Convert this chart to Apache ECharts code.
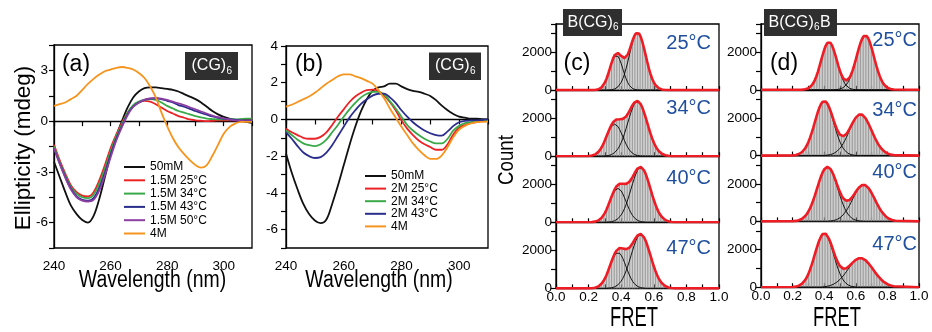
<!DOCTYPE html>
<html><head><meta charset="utf-8">
<script src="https://cdn.jsdelivr.net/npm/echarts@6/dist/echarts.min.js"></script>
<style>html,body{margin:0;padding:0;background:#fff}#c{width:932px;height:332px}</style>
</head><body><div id="c"></div>
<script>
const FONT = '"Liberation Sans", Arial, Helvetica, sans-serif';

// ---------- CD spectra (panels a, b) ----------
const WL = [240,242,244,246,248,250,252,254,256,258,260,262,264,266,268,270,272,274,276,278,280,282,284,286,288,290,292,294,296,298,300,302,304,306,308,310];
const A_50MM   = [-2.4,-3.3,-4.2,-5.0,-5.5,-5.85,-6.0,-5.6,-4.6,-3.3,-2.0,-0.9,0.0,0.8,1.4,1.75,1.95,2.0,2.0,1.95,1.9,1.85,1.75,1.6,1.45,1.3,1.1,0.85,0.6,0.4,0.25,0.15,0.08,0.05,-0.05,-0.1];
const A_15M_25 = [-1.4,-2.3,-3.1,-3.8,-4.2,-4.4,-4.45,-4.2,-3.5,-2.6,-1.6,-0.8,-0.1,0.5,0.9,1.1,1.2,1.15,1.0,0.8,0.6,0.45,0.3,0.2,0.1,0.05,0.02,0.0,0.02,0.05,0.05,0.05,0.05,0.08,0.1,0.1];
const A_15M_34 = [-1.5,-2.4,-3.2,-3.9,-4.3,-4.5,-4.55,-4.35,-3.7,-2.8,-1.8,-0.9,-0.2,0.5,0.95,1.15,1.25,1.3,1.25,1.1,0.9,0.75,0.6,0.5,0.4,0.3,0.22,0.15,0.12,0.1,0.1,0.1,0.1,0.12,0.15,0.15];
const A_15M_43 = [-1.6,-2.5,-3.3,-4.0,-4.45,-4.65,-4.7,-4.55,-3.95,-3.05,-2.0,-1.05,-0.3,0.4,0.85,1.1,1.25,1.33,1.35,1.3,1.2,1.1,0.95,0.85,0.72,0.6,0.48,0.38,0.28,0.2,0.15,0.1,0.08,0.05,0.05,0.05];
const A_15M_50 = [-1.6,-2.5,-3.35,-4.05,-4.5,-4.7,-4.75,-4.65,-4.1,-3.2,-2.15,-1.15,-0.35,0.35,0.85,1.1,1.27,1.35,1.37,1.33,1.25,1.15,1.05,0.95,0.82,0.7,0.57,0.45,0.33,0.23,0.16,0.1,0.05,0.03,0.0,0.0];
const A_4M     = [0.9,1.0,1.1,1.3,1.5,1.85,2.2,2.5,2.75,2.95,3.05,3.15,3.2,3.15,3.05,2.85,2.55,2.05,1.4,0.5,-0.3,-1.0,-1.55,-1.95,-2.3,-2.6,-2.75,-2.6,-2.05,-1.4,-0.75,-0.35,-0.15,-0.05,-0.05,-0.05];

const B_50MM  = [-1.85,-2.9,-3.8,-4.6,-5.15,-5.5,-5.65,-5.45,-4.6,-3.6,-2.5,-1.4,-0.4,0.45,1.1,1.55,1.75,1.8,1.95,1.95,1.8,1.65,1.55,1.5,1.4,1.28,1.05,0.75,0.5,0.3,0.15,0.1,0.05,0.05,0.02,0.0];
const B_2M_25 = [-0.5,-0.7,-0.85,-1.0,-1.05,-1.05,-0.95,-0.7,-0.3,0.15,0.55,0.95,1.25,1.45,1.6,1.62,1.55,1.3,0.95,0.5,-0.05,-0.5,-0.85,-1.15,-1.35,-1.5,-1.65,-1.65,-1.35,-0.8,-0.45,-0.3,-0.2,-0.15,-0.08,-0.05];
const B_2M_34 = [-0.6,-0.85,-1.1,-1.3,-1.4,-1.45,-1.35,-1.1,-0.7,-0.3,0.15,0.55,0.9,1.2,1.4,1.5,1.5,1.35,1.0,0.6,0.15,-0.3,-0.6,-0.85,-1.05,-1.2,-1.3,-1.3,-1.05,-0.6,-0.35,-0.2,-0.15,-0.1,-0.05,-0.05];
const B_2M_43 = [-0.7,-1.05,-1.45,-1.8,-2.0,-2.1,-2.05,-1.8,-1.4,-0.9,-0.4,0.1,0.5,0.85,1.1,1.3,1.4,1.4,1.2,0.9,0.5,0.15,-0.15,-0.4,-0.6,-0.75,-0.85,-0.88,-0.65,-0.35,-0.15,-0.08,-0.05,-0.05,-0.03,0.0];
const B_4M    = [0.7,0.8,0.95,1.1,1.25,1.45,1.7,1.95,2.15,2.35,2.45,2.45,2.35,2.25,2.1,1.95,1.6,1.15,0.6,0.1,-0.4,-0.85,-1.3,-1.65,-1.95,-2.15,-2.15,-1.95,-1.5,-0.95,-0.55,-0.35,-0.22,-0.15,-0.13,-0.12];

const A_NAMES = ['50mM','1.5M 25°C','1.5M 34°C','1.5M 43°C','1.5M 50°C','4M'];
const B_NAMES = ['50mM','2M 25°C','2M 34°C','2M 43°C','4M'];
const A_TICKS_Y = [-6,-3,0,3];
const B_TICKS_Y = [-6,-4,-2,0,2,4];
const WL_TICKS = [240,260,280,300];

// ---------- smFRET histograms (panels c, d) ----------
const FRET_BINS = [0.20,0.21,0.22,0.23,0.24,0.25,0.26,0.27,0.28,0.29,0.30,0.31,0.32,0.33,0.34,0.35,0.36,0.37,0.38,0.39,0.40,0.41,0.42,0.43,0.44,0.45,0.46,0.47,0.48,0.49,0.50,0.51,0.52,0.53,0.54,0.55,0.56,0.57,0.58,0.59,0.60,0.61,0.62,0.63,0.64,0.65,0.66,0.67,0.68,0.69,0.70,0.71,0.72,0.73,0.74,0.75,0.76,0.77,0.78,0.79,0.80,0.81,0.82,0.83,0.84,0.85];
// Gaussian components (counts per bin); missing tail entries are 0
const C25_LOW  = [0,0,0,4,9,20,43,81,148,250,400,601,847,1123,1397,1632,1793,1850,1793,1632,1397,1123,847,601,400,250,148,81,43,20,9,4];
const C25_HIGH = [0,0,0,0,0,0,0,0,0,0,0,0,4,9,18,34,61,104,171,271,412,604,848,1144,1485,1851,2214,2547,2815,2989,3050,2989,2815,2547,2214,1851,1485,1144,848,604,412,271,171,104,61,34,18,9,4];
const C34_LOW  = [10,19,34,58,95,151,230,337,473,638,828,1032,1234,1420,1569,1666,1700,1666,1569,1420,1234,1032,828,638,473,337,230,151,95,58,34,19,10,5];
const C34_HIGH = [0,0,0,0,0,0,0,0,0,0,12,20,32,52,84,128,191,278,392,539,722,943,1192,1467,1760,2050,2323,2558,2743,2859,2900,2859,2743,2558,2323,2050,1760,1467,1192,943,722,539,392,278,191,128,84,52,32,20,12];
const C40_LOW  = [0,5,11,20,36,61,101,160,243,356,500,675,877,1093,1307,1503,1661,1764,1800,1764,1661,1503,1307,1093,877,675,500,356,243,160,101,61,36,20,11,5];
const C40_HIGH = [0,0,0,0,0,0,0,0,0,0,0,0,12,20,32,52,84,128,191,278,392,539,722,943,1192,1467,1760,2050,2323,2558,2743,2859,2900,2859,2743,2558,2323,2050,1760,1467,1192,943,722,539,392,278,191,128,84,52,32,20,12];
const C47_LOW  = [0,6,11,21,38,65,106,169,257,376,528,713,925,1153,1379,1587,1754,1862,1900,1862,1754,1587,1379,1153,925,713,528,376,257,169,106,65,38,21,11,6];
const C47_HIGH = [0,0,0,0,0,0,0,0,0,0,0,0,11,20,31,51,83,125,188,274,385,530,710,926,1171,1442,1730,2015,2283,2514,2696,2810,2850,2810,2696,2514,2283,2015,1730,1442,1171,926,710,530,385,274,188,125,83,51,31,20,11];

const D25_LOW  = [0,0,0,0,0,0,8,15,28,51,87,143,227,344,505,709,956,1242,1548,1851,2129,2354,2499,2550,2499,2354,2129,1851,1548,1242,956,709,505,344,227,143,87,51,28,15,8];
const D25_HIGH = [0,0,0,0,0,0,0,0,0,0,0,0,0,0,0,0,0,0,0,0,0,0,0,0,0,0,0,9,15,23,44,70,113,177,270,392,554,760,1006,1291,1598,1920,2227,2500,2714,2854,2900,2854,2714,2500,2227,1920,1598,1291,1006,760,554,392,270,177,113,70,44,23,15,9];
const D34_LOW  = [12,20,32,52,84,128,191,278,392,539,722,943,1192,1467,1760,2050,2323,2558,2743,2859,2900,2859,2743,2558,2323,2050,1760,1467,1192,943,722,539,392,278,191,128,84,52,32,20,12];
const D34_HIGH = [0,0,0,0,0,0,0,0,0,0,0,0,0,0,0,0,0,0,0,0,0,15,24,37,55,81,114,161,222,297,392,506,640,792,961,1144,1335,1525,1705,1868,2006,2112,2178,2200,2178,2112,2006,1868,1705,1525,1335,1144,961,792,640,506,392,297,222,161,114,81,55,37,24,15];
const D40_LOW  = [9,15,26,41,64,96,139,203,284,392,528,693,887,1111,1360,1624,1894,2158,2401,2607,2767,2865,2900,2865,2767,2607,2401,2158,1894,1624,1360,1111,887,693,528,392,284,203,139,96,64,41,26,15,9];
const D40_HIGH = [0,0,0,0,0,0,0,0,0,0,0,0,0,0,0,0,0,0,0,0,0,0,0,14,21,33,49,72,101,142,197,263,347,449,567,702,852,1014,1184,1351,1511,1656,1778,1872,1931,1950,1931,1872,1778,1656,1511,1351,1184,1014,852,702,567,449,347,263,197,142,101,72,49,33];
const D47_LOW  = [11,20,31,51,83,125,188,274,385,530,710,926,1171,1442,1730,2015,2283,2514,2696,2810,2850,2810,2696,2514,2283,2015,1730,1442,1171,926,710,530,385,274,188,125,83,51,31,20,11];
const D47_HIGH = [0,0,0,0,0,0,0,0,0,0,0,0,0,0,0,0,0,0,0,17,25,36,50,68,93,124,163,209,267,335,414,504,603,710,823,941,1057,1170,1276,1367,1445,1502,1538,1550,1538,1502,1445,1367,1276,1170,1057,941,823,710,603,504,414,335,267,209,163,124,93,68,50,36];

const TEMPS = ['25°C','34°C','40°C','47°C'];
const COUNT_TICKS = [0,2000];

// ---------- build ----------
const COL = {black:'#111111', red:'#ec2226', green:'#3aa948', blue:'#2b2d8c', purple:'#8b3fa2', orange:'#f7941d'};
const chart = echarts.init(document.getElementById('c'), null, {renderer:'canvas'});

function grid(l,t,w,h){return {left:l,top:t,width:w,height:h,show:true,borderColor:'#000',borderWidth:1.3,backgroundColor:'rgba(0,0,0,0)',containLabel:false,outerBoundsMode:'none'};}
const grids = [grid(54,45,198,203), grid(286,46,202,202)];
const CH = 66.1, DH = 65.8;
for (let i=0;i<4;i++) grids.push(grid(556, 24+i*CH, 163, CH));
for (let i=0;i<4;i++) grids.push(grid(761, 24+i*DH, 158, DH));

const axLine = {show:true, lineStyle:{color:'#000', width:1.3}};
const lblStyle = {color:'#000', fontSize:13.5, fontFamily:FONT};
const xAxes = [], yAxes = [];
// panel a, b
[0,1].forEach(g=>{
  xAxes.push({type:'value', gridIndex:g, min:240, max:310, interval:10, axisLine:axLine,
    axisTick:{show:true, length:5, lineStyle:{color:'#000', width:1.2}}, splitLine:{show:false},
    axisLabel:Object.assign({margin:11, formatter:v=>WL_TICKS.includes(v)?String(v):''}, lblStyle)});
});
yAxes.push({type:'value', gridIndex:0, min:-7.5, max:4.5, interval:1.5, axisLine:axLine,
  axisTick:{show:true, length:5, lineStyle:{color:'#000', width:1.2}}, splitLine:{show:false},
  axisLabel:Object.assign({margin:6, formatter:v=>A_TICKS_Y.some(t=>Math.abs(t-v)<1e-6)?String(Math.round(v)):''}, lblStyle)});
yAxes.push({type:'value', gridIndex:1, min:-7, max:4, interval:1, axisLine:axLine,
  axisTick:{show:true, length:5, lineStyle:{color:'#000', width:1.2}}, splitLine:{show:false},
  axisLabel:Object.assign({margin:8, formatter:v=>B_TICKS_Y.some(t=>Math.abs(t-v)<1e-6)?String(Math.round(v)):''}, lblStyle)});
// panels c, d
for (let g=2; g<10; g++){
  const bottom = (g===5 || g===9);
  xAxes.push({type:'value', gridIndex:g, min:0, max:1, interval:0.1, axisLine:axLine,
    axisTick:{show:true, inside:true, length:4, lineStyle:{color:'#000', width:1.2}}, splitLine:{show:false},
    axisLabel:Object.assign({show:bottom, margin:2, formatter:v=>{const k=Math.round(v*10);return k%2===0?(k/10).toFixed(1):'';}}, lblStyle)});
  yAxes.push({type:'value', gridIndex:g, min:0, max:3500, interval:1000, axisLine:axLine,
    axisTick:{show:true, length:5, lineStyle:{color:'#000', width:1.2}}, splitLine:{show:false},
    axisLabel:Object.assign({margin:4, formatter:v=>COUNT_TICKS.includes(v)?String(v):''}, lblStyle)});
}

const series = [];
function cd(name, data, color, gi){
  series.push({type:'line', name, xAxisIndex:gi, yAxisIndex:gi, data:WL.map((w,i)=>[w,data[i]]),
    smooth:0.35, symbol:'none', lineStyle:{color, width:1.8}, itemStyle:{color}, z:3});
}
cd(A_NAMES[0], A_50MM, COL.black, 0);
cd(A_NAMES[1], A_15M_25, COL.red, 0);
cd(A_NAMES[2], A_15M_34, COL.green, 0);
cd(A_NAMES[3], A_15M_43, COL.blue, 0);
cd(A_NAMES[4], A_15M_50, COL.purple, 0);
cd(A_NAMES[5], A_4M, COL.orange, 0);
cd(B_NAMES[0], B_50MM, COL.black, 1);
cd(B_NAMES[1], B_2M_25, COL.red, 1);
cd(B_NAMES[2], B_2M_34, COL.green, 1);
cd(B_NAMES[3], B_2M_43, COL.blue, 1);
cd(B_NAMES[4], B_4M, COL.orange, 1);

const HIST = [
  [C25_LOW,C25_HIGH],[C34_LOW,C34_HIGH],[C40_LOW,C40_HIGH],[C47_LOW,C47_HIGH],
  [D25_LOW,D25_HIGH],[D34_LOW,D34_HIGH],[D40_LOW,D40_HIGH],[D47_LOW,D47_HIGH]
];
HIST.forEach((pair,k)=>{
  const gi = k+2;
  const lo = pair[0], hi = pair[1];
  const total = FRET_BINS.map((x,i)=>[x,(lo[i]||0)+(hi[i]||0)]);
  series.push({type:'bar', xAxisIndex:gi, yAxisIndex:gi, data:total, barWidth:1.15,
    itemStyle:{color:'#9d9d9d'}, z:1, silent:true});
  [lo,hi].forEach(comp=>{
    series.push({type:'line', xAxisIndex:gi, yAxisIndex:gi, data:FRET_BINS.map((x,i)=>[x,comp[i]||0]),
      symbol:'none', lineStyle:{color:'#000', width:0.9}, z:2, silent:true});
  });
  series.push({type:'line', xAxisIndex:gi, yAxisIndex:gi, data:[[0,0]].concat(total,[[1,0]]),
    symbol:'none', lineStyle:{color:'#ee1c25', width:2.6}, z:4, silent:true});
});

// graphics
const G = [];
function txt(text, x, y, size, opts){
  G.push(Object.assign({type:'text', x, y, z:100, style:Object.assign({text, fontSize:size, fontFamily:FONT, fill:'#000', align:'center', verticalAlign:'middle'}, (opts&&opts.style)||{})},
    opts?{rotation:opts.rotation||0, scaleX:opts.scaleX||1, scaleY:opts.scaleY||1}:{}));
}
function box(x,y,w,h,parts){
  G.push({type:'rect', z:100, shape:{x,y,width:w,height:h}, style:{fill:'#2f2f2f'}});
  parts.forEach(p=>G.push({type:'text', z:101, x:p[1], y:p[2], style:{text:p[0], fontSize:p[3], fontFamily:FONT, fill:'#fff', align:'left', verticalAlign:'middle'}}));
}
box(185,52,53,28,[['(CG)',191.5,66,16],['6',226.5,71,10]]);
box(429,52.5,52,27.5,[['(CG)',435,66,16],['6',470,71,10]]);
box(563,9,59,27,[['B(CG)',567.5,22.5,16],['6',613,27.5,10]]);
box(764,9,73,27,[['B(CG)',768.5,22.5,16],['6',814,27.5,10],['B',820,22.5,16]]);

txt('(a)', 76, 65, 23);
txt('(b)', 309, 65, 23);
txt('(c)', 577, 64, 23);
txt('(d)', 784, 64, 23);
txt('Wavelength (nm)', 152.5, 281, 23, {scaleX:0.845});
txt('Wavelength (nm)', 379, 281, 23, {scaleX:0.845});
txt('Ellipticity (mdeg)', 24, 148, 22, {rotation:Math.PI/2, scaleX:1.02});
txt('Count', 507, 160, 22, {rotation:Math.PI/2, scaleX:0.85});
txt('FRET', 634, 319, 27, {scaleX:0.68});
txt('FRET', 837, 319, 27, {scaleX:0.68});
const TEMP_Y_C = [43, 108.5, 178.5, 248.5], TEMP_Y_D = [40, 110, 172.5, 244];
TEMPS.forEach((t,i)=>{
  G.push({type:'text', z:100, x:711, y:TEMP_Y_C[i], style:{text:t, fontSize:20, fontFamily:FONT, fill:'#1f4f9e', align:'right', verticalAlign:'middle'}});
  G.push({type:'text', z:100, x:917, y:TEMP_Y_D[i], style:{text:t, fontSize:20, fontFamily:FONT, fill:'#1f4f9e', align:'right', verticalAlign:'middle'}});
});

const legendBase = {orient:'vertical', icon:'rect', itemWidth:21, itemHeight:2, padding:0, selectedMode:false,
  textStyle:{fontSize:12, lineHeight:12, color:'#000', fontFamily:FONT}, itemStyle:{borderWidth:0}};
chart.setOption({
  animation:false,
  backgroundColor:'#fff',
  grid:grids, xAxis:xAxes, yAxis:yAxes, series,
  legend:[
    Object.assign({}, legendBase, {data:A_NAMES, left:124, top:161, itemGap:1.3}),
    Object.assign({}, legendBase, {data:B_NAMES, left:365, top:170, itemGap:0.6})
  ],
  graphic:G
});
</script></body></html>
